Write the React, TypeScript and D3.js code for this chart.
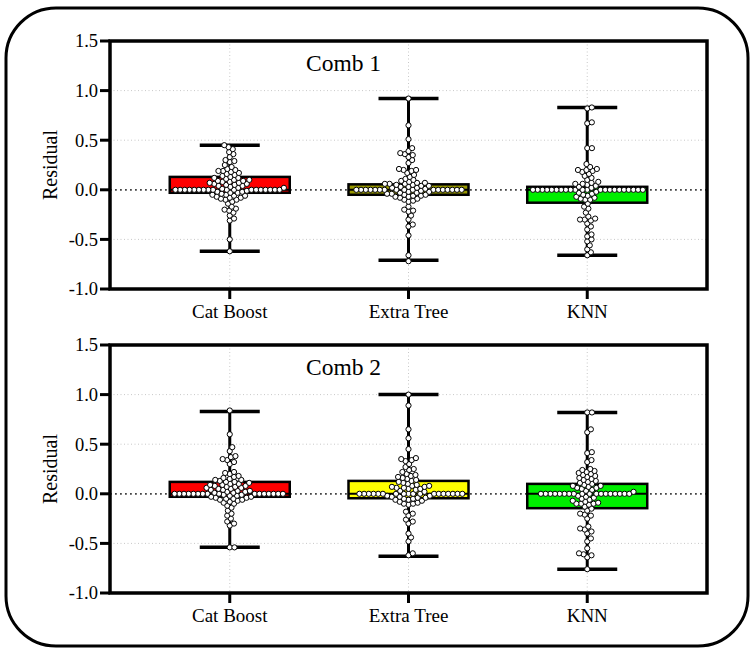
import React, { useMemo } from 'react';
import * as d3 from 'd3';

// ---- data ----
const categories = ['Cat Boost', 'Extra Tree', 'KNN'];
const panelTitles = ['Comb 1', 'Comb 2'];
const yTicks = [-1.0, -0.5, 0.0, 0.5, 1.0, 1.5];

// [min, q1, median, q3, max]
const comb1Boxes = [
    [-0.62, -0.03, 0.0, 0.13, 0.45],
    [-0.71, -0.05, 0.0, 0.055, 0.92],
    [-0.66, -0.13, 0.0, 0.03, 0.83],
];
const comb2Boxes = [
    [-0.54, -0.03, 0.0, 0.12, 0.83],
    [-0.63, -0.045, 0.0, 0.13, 1.0],
    [-0.76, -0.145, 0.0, 0.1, 0.82],
];

const comb1CatBoost = [
    0.45, 0.43, 0.41, 0.38, 0.36, 0.33, 0.30, 0.29, 0.28, 0.25, 0.23, 0.21, 0.20, 0.19, 0.19, 0.18, 0.17, 0.16,
    0.15, 0.14, 0.13, 0.12, 0.12, 0.11, 0.10, 0.10, 0.09, 0.09, 0.08, 0.08, 0.07, 0.07, 0.06, 0.06, 0.05, 0.05,
    0.04, 0.04, 0.03, 0.02, 0.02, 0.01,
    0, 0, 0, 0, 0, 0, 0, 0, 0, 0, 0, 0, 0, 0, 0, 0, 0, 0,
    -0.01, -0.02, -0.02, -0.03, -0.03, -0.04, -0.05, -0.05, -0.06, -0.06, -0.07, -0.08, -0.08, -0.09, -0.10,
    -0.10, -0.12, -0.14, -0.17, -0.19, -0.20, -0.21, -0.23, -0.26, -0.29, -0.31, -0.50, -0.62,
];
const comb1ExtraTree = [
    0.92, 0.65, 0.51, 0.42, 0.39, 0.37, 0.36, 0.35, 0.33, 0.30, 0.27, 0.21, 0.20, 0.20, 0.19, 0.17, 0.15, 0.13,
    0.11, 0.10, 0.09, 0.08, 0.07, 0.07, 0.06, 0.06, 0.06, 0.05, 0.05, 0.04, 0.04, 0.03, 0.03, 0.02, 0.02, 0.01,
    0, 0, 0, 0, 0, 0, 0, 0, 0, 0, 0, 0, 0, 0, 0, 0, 0,
    -0.01, -0.02, -0.02, -0.03, -0.03, -0.04, -0.04, -0.05, -0.05, -0.06, -0.06, -0.07, -0.07, -0.08,
    -0.09, -0.10, -0.11, -0.12, -0.17, -0.20, -0.21, -0.22, -0.26, -0.30, -0.35, -0.37, -0.46, -0.66, -0.72,
];
const comb1KNN = [
    0.83, 0.82, 0.68, 0.67, 0.42, 0.42, 0.26, 0.23, 0.21, 0.20, 0.20, 0.19, 0.18, 0.16, 0.14, 0.12, 0.10, 0.08,
    0.07, 0.06, 0.06, 0.05, 0.04, 0.03, 0.02,
    0, 0, 0, 0, 0, 0, 0, 0, 0, 0, 0, 0, 0, 0, 0, 0, 0, 0, 0, 0, 0, 0,
    -0.02, -0.03, -0.04, -0.05, -0.06, -0.07, -0.08, -0.09, -0.10, -0.10, -0.14, -0.17, -0.19, -0.23,
    -0.27, -0.29, -0.30, -0.30, -0.31, -0.34, -0.37, -0.40, -0.45, -0.47, -0.50, -0.52, -0.56, -0.60, -0.63, -0.66,
];
const comb2CatBoost = [
    0.84, 0.60, 0.47, 0.43, 0.38, 0.37, 0.35, 0.34, 0.32, 0.30, 0.22, 0.21, 0.20, 0.18, 0.17, 0.16, 0.15, 0.14,
    0.14, 0.13, 0.12, 0.12, 0.11, 0.10, 0.10, 0.09, 0.09, 0.08, 0.08, 0.07, 0.07, 0.06, 0.06, 0.05, 0.05, 0.04,
    0.04, 0.03, 0.03, 0.02, 0.02, 0.01, 0.01,
    0, 0, 0, 0, 0, 0, 0, 0, 0, 0, 0, 0, 0, 0, 0, 0,
    -0.01, -0.01, -0.02, -0.02, -0.03, -0.03, -0.04, -0.04, -0.05, -0.05, -0.06, -0.06, -0.07, -0.08, -0.09,
    -0.10, -0.12, -0.14, -0.17, -0.20, -0.22, -0.25, -0.28, -0.30, -0.32, -0.54, -0.54,
];
const comb2ExtraTree = [
    1.0, 0.89, 0.65, 0.56, 0.45, 0.36, 0.35, 0.34, 0.33, 0.30, 0.27, 0.25, 0.24, 0.22, 0.20, 0.19, 0.18, 0.17,
    0.16, 0.15, 0.14, 0.13, 0.12, 0.11, 0.10, 0.09, 0.08, 0.08, 0.07, 0.07, 0.06, 0.06, 0.05, 0.05, 0.04, 0.03,
    0.02,
    0, 0, 0, 0, 0, 0, 0, 0, 0, 0, 0, 0, 0, 0, 0, 0, 0, 0,
    -0.02, -0.02, -0.03, -0.03, -0.04, -0.04, -0.05, -0.05, -0.06, -0.06, -0.07, -0.08, -0.09, -0.10,
    -0.10, -0.11, -0.18, -0.20, -0.22, -0.26, -0.28, -0.30, -0.40, -0.44, -0.48, -0.60, -0.62,
];
const comb2KNN = [
    0.82, 0.82, 0.65, 0.62, 0.42, 0.41, 0.34, 0.32, 0.25, 0.24, 0.23, 0.22, 0.21, 0.20, 0.19, 0.18, 0.17, 0.16,
    0.15, 0.14, 0.13, 0.12, 0.11, 0.10, 0.09, 0.08, 0.08, 0.07, 0.06, 0.06, 0.05, 0.04, 0.03, 0.02,
    0, 0, 0, 0, 0, 0, 0, 0, 0, 0, 0, 0, 0, 0, 0, 0, 0, 0,
    -0.02, -0.03, -0.04, -0.05, -0.06, -0.07, -0.08, -0.09, -0.10, -0.10, -0.10, -0.11, -0.13, -0.15,
    -0.17, -0.20, -0.21, -0.22, -0.25, -0.33, -0.35, -0.36, -0.38, -0.40, -0.45, -0.48, -0.55, -0.60, -0.61,
    -0.62, -0.64, -0.76,
];

const panels = [
    { title: panelTitles[0], boxes: comb1Boxes, points: [comb1CatBoost, comb1ExtraTree, comb1KNN], colors: ['#ff0000', '#999900', '#00ee00'] },
    { title: panelTitles[1], boxes: comb2Boxes, points: [comb2CatBoost, comb2ExtraTree, comb2KNN], colors: ['#ff0000', '#ffff00', '#00ee00'] },
];

const serif = { fontFamily: 'Liberation Serif' };
const W = 752;
const H = 650;
const R = 2.6;      // dot radius
const GAP = 4.7;    // min centre distance in the swarm

// greedy beeswarm: each point takes the free x closest to the centre
function swarm(values: number[], y: (v: number) => number) {
    const pts = values.map(v => ({ v, y: y(v), x: 0 })).sort((a, b) => d3.ascending(a.v, b.v));
    const placed: { x: number; y: number }[] = [];
    for (const p of pts) {
        const cands = [0];
        for (const q of placed) {
            const dy = q.y - p.y;
            if (Math.abs(dy) < GAP) {
                const dx = Math.sqrt(GAP * GAP - dy * dy);
                cands.push(q.x + dx, q.x - dx);
            }
        }
        cands.sort((a, b) => Math.abs(a) - Math.abs(b));
        for (const c of cands) {
            const ok = placed.every(q => (q.x - c) ** 2 + (q.y - p.y) ** 2 >= GAP * GAP - 0.01);
            if (ok) { p.x = c; break; }
        }
        placed.push({ x: p.x, y: p.y });
    }
    return pts;
}

const fmt = (v: number) => v.toFixed(1);

const Panel = ({ panel, top }: { panel: any; top: number }) => {
    const x0 = 110, x1 = 707;
    const y0 = top, y1 = top + 248;

    const x = d3.scalePoint().domain(categories).range([x0, x1]).padding(0.67);
    const y = d3.scaleLinear().domain([-1, 1.5]).range([y1, y0]);

    const swarms = useMemo(() => panel.points.map((vals: number[]) => swarm(vals, y)), [panel, top]);

    const boxHalf = 60;
    const capHalf = 30;

    return (
        <g>
            {/* grid */}
            {categories.map(c => (
                <line key={c} x1={x(c)} x2={x(c)} y1={y0} y2={y1} stroke="#c8c8c8" strokeWidth={1} strokeDasharray="1 2.5" />
            ))}
            {yTicks.filter(t => t !== 0 && t > -1 && t < 1.5).map(t => (
                <line key={t} x1={x0} x2={x1} y1={y(t)} y2={y(t)} stroke="#c8c8c8" strokeWidth={1} strokeDasharray="1 2.5" />
            ))}
            <line x1={x0} x2={x1} y1={y(0)} y2={y(0)} stroke="#444" strokeWidth={1.8} strokeDasharray="1.8 3.2" />

            {/* boxes */}
            {categories.map((c, i) => {
                const [mn, q1, md, q3, mx] = panel.boxes[i];
                const cx = x(c) as number;
                return (
                    <g key={c}>
                        <line x1={cx} x2={cx} y1={y(mx)} y2={y(mn)} stroke="#000" strokeWidth={3} />
                        <line x1={cx - capHalf} x2={cx + capHalf} y1={y(mx)} y2={y(mx)} stroke="#000" strokeWidth={3.5} />
                        <line x1={cx - capHalf} x2={cx + capHalf} y1={y(mn)} y2={y(mn)} stroke="#000" strokeWidth={3.5} />
                        <rect x={cx - boxHalf} y={y(q3)} width={boxHalf * 2} height={y(q1) - y(q3)}
                            fill={panel.colors[i]} stroke="#000" strokeWidth={2.5} />
                        <line x1={cx - boxHalf} x2={cx + boxHalf} y1={y(md)} y2={y(md)} stroke="#000" strokeWidth={2} />
                    </g>
                );
            })}

            {/* dots */}
            {categories.map((c, i) => (
                <g key={c}>
                    {swarms[i].map((p: any, j: number) => (
                        <circle key={j} cx={(x(c) as number) + p.x} cy={p.y} r={R} fill="#fff" stroke="#000" strokeWidth={1} />
                    ))}
                </g>
            ))}

            {/* frame + axes */}
            <rect x={x0} y={y0} width={x1 - x0} height={y1 - y0} fill="none" stroke="#000" strokeWidth={3.5} />
            {yTicks.map(t => (
                <g key={t}>
                    <line x1={x0 - 10} x2={x0} y1={y(t)} y2={y(t)} stroke="#000" strokeWidth={3} />
                    <text x={x0 - 12} y={y(t)} dy="0.35em" textAnchor="end" fontSize={18.5} style={serif}>{fmt(t)}</text>
                </g>
            ))}
            {categories.map(c => (
                <g key={c}>
                    <line x1={x(c)} x2={x(c)} y1={y1} y2={y1 + 10} stroke="#000" strokeWidth={3} />
                    <text x={x(c)} y={y1 + 29} textAnchor="middle" fontSize={19} style={serif}>{c}</text>
                </g>
            ))}
            <text transform={`translate(50, ${(y0 + y1) / 2}) rotate(-90)`} dy="0.35em" textAnchor="middle"
                fontSize={20} style={serif}>Residual</text>
            <text x={306} y={y0 + 29.5} fontSize={23.5} style={serif}>{panel.title}</text>
        </g>
    );
};

export default function App() {
    return (
        <svg width={W} height={H} style={{ position: 'absolute', left: 0, top: 0, display: 'block', background: '#fff' }}>
            <rect x={6} y={8} width={742} height={638} rx={50} ry={50} fill="#fff" stroke="#000" strokeWidth={3} />
            <Panel panel={panels[0]} top={41} />
            <Panel panel={panels[1]} top={345} />
        </svg>
    );
}
